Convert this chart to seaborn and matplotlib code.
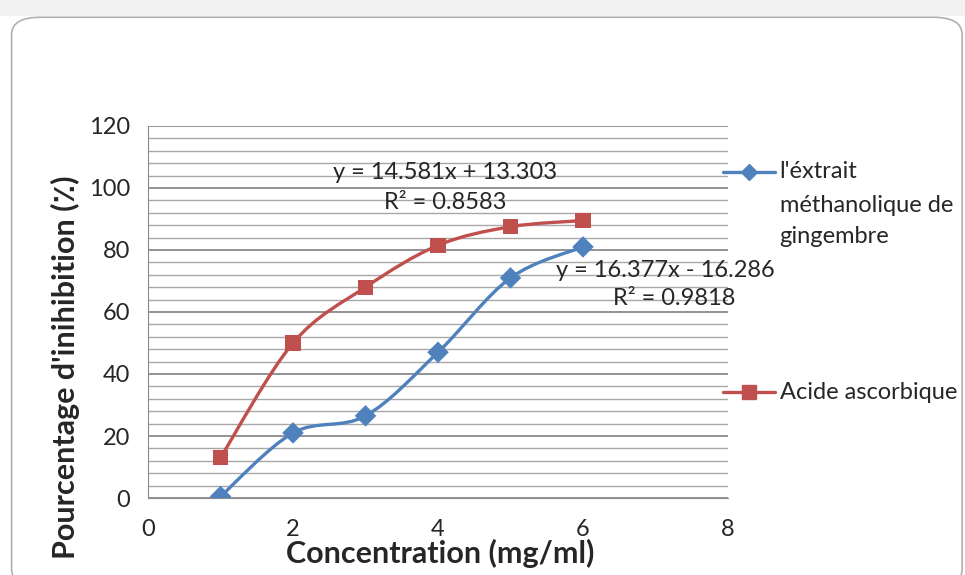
import numpy as np
import pandas as pd
import matplotlib
matplotlib.use("Agg")
import matplotlib.pyplot as plt
import seaborn as sns
from matplotlib.path import Path
from matplotlib.patches import PathPatch, FancyBboxPatch, Rectangle
from matplotlib.lines import Line2D
from matplotlib.ticker import MultipleLocator

# donnees
concentration = [1, 2, 3, 4, 5, 6]
gingembre = [0.5, 21, 26.5, 47, 71, 81]
acide_ascorbique = [13, 50, 68, 81.5, 87.5, 89.5]
noms = ["l'éxtrait\nméthanolique de\ngingembre", "Acide ascorbique"]
eq_gingembre = "y = 16.377x - 16.286"
r2_gingembre = "R² = 0.9818"
eq_acide = "y = 14.581x + 13.303"
r2_acide = "R² = 0.8583"

bleu = "#4F81BD"
rouge = "#C0504D"

sns.set_style("white")
plt.rcParams['font.family'] = ['Lato', 'DejaVu Sans']

df = pd.DataFrame({"x": concentration * 2,
                   "y": gingembre + acide_ascorbique,
                   "serie": [noms[0]] * 6 + [noms[1]] * 6})

fig = plt.figure(figsize=(9.65, 5.75), dpi=100)
# cadre du graphique (style Excel)
fig.patches.append(Rectangle((0, 0.972), 1, 0.028, transform=fig.transFigure,
                             facecolor="#f2f2f2", edgecolor="none", zorder=-2))
fig.patches.append(FancyBboxPatch((0.012, -0.02), 0.985, 0.99,
                                  boxstyle="round,pad=0,rounding_size=0.03",
                                  transform=fig.transFigure, facecolor="white",
                                  edgecolor="#b0b0b0", lw=1.2, zorder=-1))

ax = fig.add_axes([0.1534, 0.1339, 0.601, 0.647])
ax.patch.set_alpha(0)


def courbe_lisse(ax, xs, ys, couleur):
    # ligne lissee facon Excel (Catmull-Rom -> Bezier)
    pts = np.column_stack([xs, ys]).astype(float)
    verts = [pts[0]]
    codes = [Path.MOVETO]
    n = len(pts)
    for i in range(n - 1):
        p0 = pts[i - 1] if i > 0 else pts[i]
        p1 = pts[i]
        p2 = pts[i + 1]
        p3 = pts[i + 2] if i + 2 < n else pts[i + 1]
        c1 = p1 + (p2 - p0) / 6
        c2 = p2 - (p3 - p1) / 6
        verts += [c1, c2, p2]
        codes += [Path.CURVE4] * 3
    ax.add_patch(PathPatch(Path(verts, codes), facecolor="none",
                           edgecolor=couleur, lw=2.4, zorder=3))


courbe_lisse(ax, concentration, gingembre, bleu)
courbe_lisse(ax, concentration, acide_ascorbique, rouge)

sns.scatterplot(data=df, x="x", y="y", hue="serie", style="serie",
                markers={noms[0]: "D", noms[1]: "s"},
                palette={noms[0]: bleu, noms[1]: rouge},
                s=120, edgecolor="none", legend=False, ax=ax, zorder=4)

ax.set_xlim(0, 8)
ax.set_ylim(0, 120)
ax.xaxis.set_major_locator(MultipleLocator(2))
ax.yaxis.set_major_locator(MultipleLocator(20))
ax.yaxis.set_minor_locator(MultipleLocator(4))
ax.grid(which="major", axis="y", color="#8a8a8a", lw=1.3)
ax.grid(which="minor", axis="y", color="#a8a8a8", lw=1.0)
ax.set_axisbelow(True)
for s in ["top", "right"]:
    ax.spines[s].set_visible(False)
ax.spines["left"].set_color("#8a8a8a")
ax.spines["bottom"].set_color("#8a8a8a")
ax.tick_params(axis="y", which="major", direction="inout", length=10,
               color="#8a8a8a", labelsize=17, pad=8)
ax.tick_params(axis="y", which="minor", length=0)
ax.tick_params(axis="x", direction="out", length=6, color="#8a8a8a",
               labelsize=17, pad=9)
ax.set_xlabel("Concentration (mg/ml)", fontsize=22, fontweight="bold")
ax.set_ylabel("Pourcentage d'inihibition (٪)", fontsize=22, fontweight="bold")
ax.xaxis.set_label_coords(0.503, -0.148)
ax.yaxis.set_label_coords(-0.143, 0.352)
ax.yaxis.label.set_va("center")
ax.xaxis.label.set_va("center")

# equations des courbes de tendance
ax.text(4.1, 105, eq_acide, ha="center", va="center", fontsize=17)
ax.text(4.1, 95.2, r2_acide, ha="center", va="center", fontsize=17)
ax.text(7.13, 73.5, eq_gingembre, ha="center", va="center", fontsize=17)
ax.text(8.1, 64.5, r2_gingembre, ha="right", va="center", fontsize=17)

# legende a droite
fig.add_artist(Line2D([0.749, 0.776, 0.803], [0.701, 0.701, 0.701], color=bleu,
                      lw=2.4, marker="D", markersize=8, markevery=[1],
                      transform=fig.transFigure))
fig.add_artist(Line2D([0.749, 0.776, 0.803], [0.318, 0.318, 0.318], color=rouge,
                      lw=2.4, marker="s", markersize=10, markevery=[1],
                      transform=fig.transFigure))
fig.text(0.808, 0.701, "l'éxtrait", ha="left", va="center", fontsize=17)
fig.text(0.808, 0.643, "méthanolique de", ha="left", va="center", fontsize=17)
fig.text(0.808, 0.588, "gingembre", ha="left", va="center", fontsize=17)
fig.text(0.808, 0.318, noms[1], ha="left", va="center", fontsize=17)

fig.savefig("out.png", dpi=100)
